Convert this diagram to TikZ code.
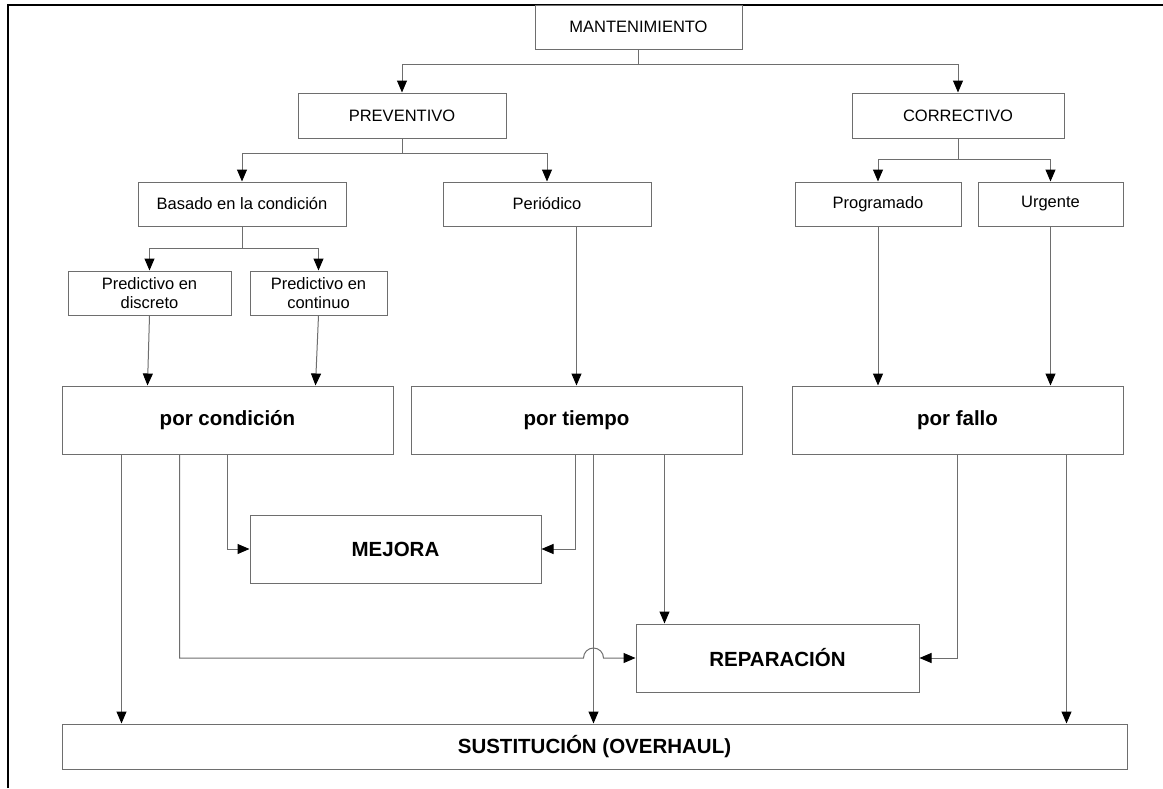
\documentclass[tikz,border=0pt]{standalone}
\usepackage{fontspec}
\setmainfont{Liberation Sans}
\usetikzlibrary{arrows.meta,calc}
\definecolor{edgegray}{HTML}{6E6E6E}
\tikzset{
  box/.style={draw=edgegray, line width=1pt, fill=white, inner sep=2pt, align=center,
              font=\fontsize{16.5}{19.5}\selectfont},
  bigbox/.style={box, font=\fontsize{20.5}{24}\selectfont\bfseries},
  link/.style={draw=edgegray, line width=1pt},
  arr/.style={link, -{Triangle[length=12pt,width=10pt,color=black]}},
}
\begin{document}
\begin{tikzpicture}[x=1pt,y=-1pt]
\useasboundingbox (0,0) rectangle (1163,788);
\fill[white] (0,0) rectangle (1163,788);

% page frame
\draw[black, line width=2pt] (8,788) -- (8,4.5) -- (1163,4.5);

% level 1 and 2
\node[box, minimum width=207pt, minimum height=44pt] (mant) at (638.5,27) {MANTENIMIENTO};
\node[box, minimum width=208pt, minimum height=45pt] (prev) at (402,115.5) {PREVENTIVO};
\node[box, minimum width=212pt, minimum height=45pt] (corr) at (958,115.5) {CORRECTIVO};

% level 3
\node[box, minimum width=208pt, minimum height=44pt] (bas) at (242,204) {Basado en la condición};
\node[box, minimum width=208pt, minimum height=44pt] (per) at (547,204) {Periódico};
\node[box, minimum width=166pt, minimum height=44pt] (prog) at (878,204) {Programado};
\node[box, minimum width=145pt, minimum height=44pt] (urg) at (1050.5,204) {Urgente};

% level 4
\node[box, minimum width=163pt, minimum height=44pt] (pdis) at (149.5,293) {Predictivo en\\discreto};
\node[box, minimum width=137pt, minimum height=44pt] (pcon) at (318.5,293) {Predictivo en\\continuo};

% maintenance kinds
\node[bigbox, minimum width=331pt, minimum height=68pt] (pcond) at (227.5,420) {por condición};
\node[bigbox, minimum width=331pt, minimum height=68pt] (ptiem) at (576.5,420) {por tiempo};
\node[bigbox, minimum width=331pt, minimum height=68pt] (pfallo) at (957.5,420) {por fallo};

% actions
\node[bigbox, minimum width=291pt, minimum height=68pt] (mej) at (395.5,549) {MEJORA};
\node[bigbox, minimum width=283pt, minimum height=68pt] (rep) at (777.5,658) {REPARACIÓN};
\node[bigbox, minimum width=1065pt, minimum height=45pt] (sust) at (594.5,746.5) {SUSTITUCIÓN (OVERHAUL)};

% tree connectors
\coordinate (j1) at (638.5,64);
\draw[link] (mant.south) -- (j1);
\draw[arr] (j1) -| (prev.north);
\draw[arr] (j1) -| (corr.north);

\coordinate (j2) at (402,153);
\draw[link] (prev.south) -- (j2);
\draw[arr] (j2) -| (bas.north);
\draw[arr] (j2) -| (per.north);

\coordinate (j3) at (958,159);
\draw[link] (corr.south) -- (j3);
\draw[arr] (j3) -| (prog.north);
\draw[arr] (j3) -| (urg.north);

\coordinate (j4) at (242,248);
\draw[link] (bas.south) -- (j4);
\draw[arr] (j4) -| (pdis.north);
\draw[arr] (j4) -| (pcon.north);

% into the kinds
\draw[arr] (pdis.south) -- ($(pcond.north west)+(86,0)$);
\draw[arr] (pcon.south) -- ($(pcond.north west)+(254,0)$);
\draw[arr] (per.south -| ptiem.north) -- (ptiem.north);
\draw[arr] (prog.south) -- (prog.south |- pfallo.north);
\draw[arr] (urg.south) -- (urg.south |- pfallo.north);

% out of the kinds
\coordinate (c1) at ($(pcond.south west)+(60,0)$);
\coordinate (c2) at ($(pcond.south west)+(118,0)$);
\coordinate (c3) at ($(pcond.south west)+(166,0)$);
\coordinate (c4) at ($(ptiem.south west)+(165,0)$);
\coordinate (c5) at ($(ptiem.south west)+(183,0)$);
\coordinate (c6) at ($(ptiem.south west)+(254,0)$);
\coordinate (c7) at ($(pfallo.south west)+(166,0)$);
\coordinate (c8) at ($(pfallo.south west)+(275,0)$);

\draw[arr] (c1) -- (c1 |- sust.north);
\draw[arr] (c2) |- ($(c5 |- rep.west)+(-10,0)$)
   arc[start angle=180, end angle=0, radius=10pt] -- (rep.west);
\draw[arr] (c3) |- (mej.west);
\draw[arr] (c4) |- (mej.east);
\draw[arr] (c5) -- (c5 |- sust.north);
\draw[arr] (c6) -- (c6 |- rep.north);
\draw[arr] (c7) |- (rep.east);
\draw[arr] (c8) -- (c8 |- sust.north);
\end{tikzpicture}
\end{document}
